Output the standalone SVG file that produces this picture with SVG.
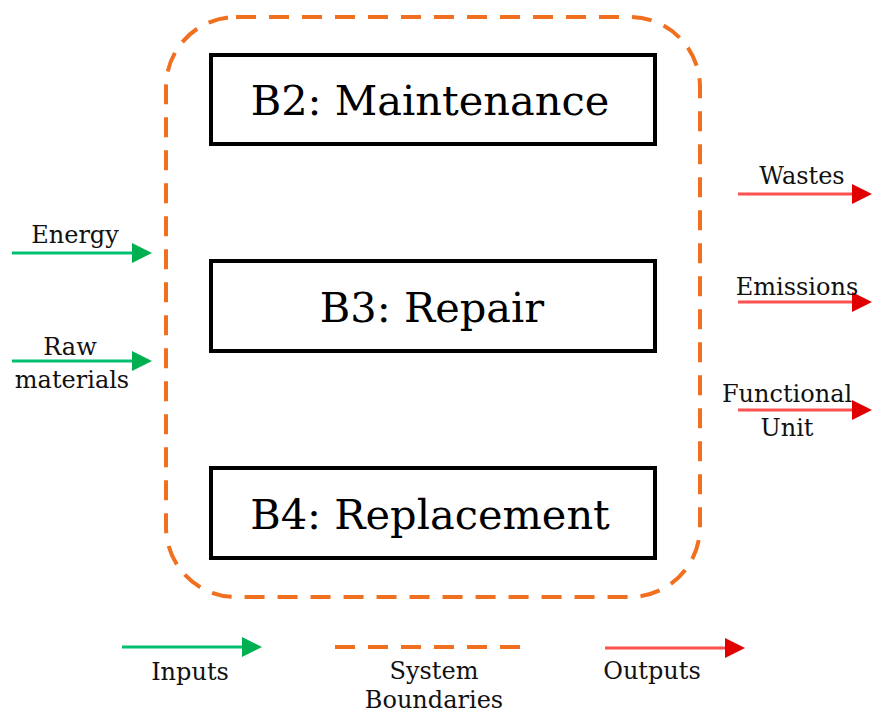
<svg xmlns="http://www.w3.org/2000/svg" width="872" height="716" viewBox="0 0 872 716">
  <style>
    .box { fill: #ffffff; stroke: #000000; stroke-width: 4; }
    .big { font-family: "DejaVu Serif", "Liberation Serif", serif; font-size: 41.5px; fill: #000; text-anchor: middle; }
    .lbl { font-family: "DejaVu Serif", "Liberation Serif", serif; font-size: 24px; fill: #111; text-anchor: middle; }
    .bound { fill: none; stroke: #F07020; stroke-width: 4; stroke-dasharray: 20 13; }
    .in { stroke: #00C070; stroke-width: 3; fill: none; }
    .out { stroke: #FF5050; stroke-width: 3; fill: none; }
  </style>
  <defs>
    <marker id="ahIn" markerUnits="userSpaceOnUse" viewBox="0 0 20 20" refX="2" refY="10" markerWidth="20" markerHeight="20" orient="auto">
      <path d="M0,0 L20,10 L0,20 Z" fill="#00B050"/>
    </marker>
    <marker id="ahOut" markerUnits="userSpaceOnUse" viewBox="0 0 20 20" refX="2" refY="10" markerWidth="20" markerHeight="20" orient="auto">
      <path d="M0,0 L20,10 L0,20 Z" fill="#E00000"/>
    </marker>
  </defs>

  <rect width="872" height="716" fill="#ffffff"/>

  <!-- system boundary -->
  <g id="boundary">
    <rect class="bound" x="166" y="17" width="534" height="580" rx="70" ry="70"/>
  </g>

  <!-- processes -->
  <g id="b2">
    <rect class="box" x="211" y="55" width="444" height="89"/>
    <text class="big" x="430" y="115">B2: Maintenance</text>
  </g>
  <g id="b3">
    <rect class="box" x="211" y="261" width="444" height="90"/>
    <text class="big" x="432" y="322">B3: Repair</text>
  </g>
  <g id="b4">
    <rect class="box" x="211" y="468" width="444" height="90"/>
    <text class="big" x="430" y="529">B4: Replacement</text>
  </g>

  <!-- flows -->
  <g id="connectors">
    <line class="in" x1="12" y1="253" x2="134" y2="253" marker-end="url(#ahIn)"/>
    <line class="in" x1="12" y1="361" x2="134" y2="361" marker-end="url(#ahIn)"/>
    <line class="out" x1="738" y1="194" x2="854" y2="194" marker-end="url(#ahOut)"/>
    <line class="out" x1="738" y1="302" x2="854" y2="302" marker-end="url(#ahOut)"/>
    <line class="out" x1="738" y1="410" x2="854" y2="410" marker-end="url(#ahOut)"/>
  </g>

  <g id="inputs">
    <text class="lbl" x="75" y="243">Energy</text>
    <text class="lbl" x="70" y="355">Raw</text>
    <text class="lbl" x="72" y="388">materials</text>
  </g>
  <g id="outputs">
    <text class="lbl" x="802" y="184">Wastes</text>
    <text class="lbl" x="797" y="295">Emissions</text>
    <text class="lbl" x="787" y="402">Functional</text>
    <text class="lbl" x="787" y="436">Unit</text>
  </g>

  <!-- legend -->
  <g id="legend">
    <line class="in" x1="122" y1="647" x2="244" y2="647" marker-end="url(#ahIn)"/>
    <text class="lbl" x="190" y="680">Inputs</text>
    <line class="bound" x1="335" y1="647" x2="533" y2="647"/>
    <text class="lbl" x="434" y="679">System</text>
    <text class="lbl" x="434" y="708">Boundaries</text>
    <line class="out" x1="605" y1="648" x2="727" y2="648" marker-end="url(#ahOut)"/>
    <text class="lbl" x="652" y="679">Outputs</text>
  </g>
</svg>
